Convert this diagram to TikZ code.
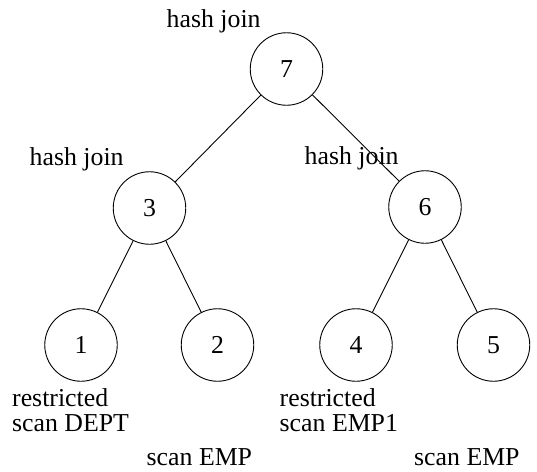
\documentclass[tikz,border=0pt]{standalone}
\usepackage{fontspec}
\setmainfont{Liberation Serif}
\begin{document}
\begin{tikzpicture}[x=1pt,y=-1pt,
  every node/.style={font=\fontsize{25.8}{25}\selectfont},
  opnode/.style={circle,draw,line width=0.9pt,minimum size=72.5pt,inner sep=0pt},
  edge line/.style={line width=0.9pt},
  caption/.style={anchor=base west,inner sep=0pt,align=left}]
\useasboundingbox (0,0) rectangle (537,471);
% plan operators
\node[opnode] (n7) at (286.5,69) {7};
\node[opnode] (n3) at (149.5,208) {3};
\node[opnode] (n6) at (425,207) {6};
\node[opnode] (n1) at (81,345) {1};
\node[opnode] (n2) at (217.5,345) {2};
\node[opnode] (n4) at (356,345) {4};
\node[opnode] (n5) at (493.5,345) {5};
% tree edges
\draw[edge line] (n7) -- (n3);
\draw[edge line] (n7) -- (n6);
\draw[edge line] (n3) -- (n1);
\draw[edge line] (n3) -- (n2);
\draw[edge line] (n6) -- (n4);
\draw[edge line] (n6) -- (n5);
% operator descriptions (base anchor sits on the last line)
\node[caption] (l7) at (166.5,27) {hash join};
\node[caption] (l3) at (29.5,165) {hash join};
\node[caption] (l6) at (304.5,164) {hash join};
\node[caption] (l1) at (12,431) {restricted\\scan DEPT};
\node[caption] (l4) at (279.5,431) {restricted\\scan EMP1};
\node[caption] (l2) at (146.5,465) {scan EMP};
\node[caption] (l5) at (414,465) {scan EMP};
\end{tikzpicture}
\end{document}
